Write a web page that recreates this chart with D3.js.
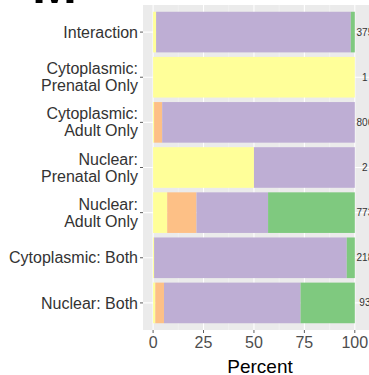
<!DOCTYPE html>
<html>
<head>
<meta charset="utf-8">
<script src="https://cdn.jsdelivr.net/npm/d3@7"></script>
<style>
  html, body { margin: 0; padding: 0; background: #fff; }
  svg { display: block; font-family: "Liberation Sans", Arial, Helvetica, sans-serif; }
</style>
</head>
<body>
<svg id="chart" width="369" height="375"></svg>
<script>
// Categories, top to bottom (multi-line labels split on "\n")
const categories = [
  "Interaction",
  "Cytoplasmic:\nPrenatal Only",
  "Cytoplasmic:\nAdult Only",
  "Nuclear:\nPrenatal Only",
  "Nuclear:\nAdult Only",
  "Cytoplasmic: Both",
  "Nuclear: Both"
];
// Number of features in each category (printed at the right of each bar)
const counts = ["375", "1", "806", "2", "773", "218", "93"];

// Percent of each category falling in each group, stacked left to right
const groupNames = ["g1", "g2", "g3", "g4"];
const groupColors = ["#ffff99", "#fdc086", "#beaed4", "#7fc97f"];
const pctG1 = [1.5, 100, 0.5, 50, 7.0, 0.5, 1.1];
const pctG2 = [0.0, 0, 4.0, 0, 14.5, 0.0, 4.3];
const pctG3 = [96.5, 0, 95.5, 50, 35.5, 95.5, 67.7];
const pctG4 = [2.0, 0, 0.0, 0, 43.0, 4.0, 26.9];

const xTicks = [0, 25, 50, 75, 100];
const xMinor = [12.5, 37.5, 62.5, 87.5];
const xTitle = "Percent";
const panelTag = "M";

const svg = d3.select("#chart");
const panel = { left: 143, right: 377, top: 5, bottom: 330 };

const x = d3.scaleLinear().domain([-5, 111]).range([panel.left, panel.right]);
const y = d3.scaleBand().domain(categories)
  .range([panel.top, panel.bottom])
  .paddingInner(0.1).paddingOuter(0.15);

// Panel background
svg.append("rect")
  .attr("x", panel.left).attr("y", panel.top)
  .attr("width", panel.right - panel.left).attr("height", panel.bottom - panel.top)
  .attr("fill", "#ebebeb");

// Grid lines
const grid = svg.append("g");
grid.selectAll("line.minor").data(xMinor).join("line")
  .attr("x1", d => x(d)).attr("x2", d => x(d))
  .attr("y1", panel.top).attr("y2", panel.bottom)
  .attr("stroke", "#f5f5f5").attr("stroke-width", 0.6);
grid.selectAll("line.major").data(xTicks).join("line")
  .attr("x1", d => x(d)).attr("x2", d => x(d))
  .attr("y1", panel.top).attr("y2", panel.bottom)
  .attr("stroke", "#ffffff").attr("stroke-width", 1.1);
grid.selectAll("line.h").data(categories).join("line")
  .attr("x1", panel.left).attr("x2", panel.right)
  .attr("y1", d => y(d) + y.bandwidth() / 2).attr("y2", d => y(d) + y.bandwidth() / 2)
  .attr("stroke", "#ffffff").attr("stroke-width", 1.1);

// Stacked bars
const rows = categories.map((c, i) => ({
  cat: c, g1: pctG1[i], g2: pctG2[i], g3: pctG3[i], g4: pctG4[i]
}));
const stack = d3.stack().keys(groupNames)(rows);
const color = d3.scaleOrdinal().domain(groupNames).range(groupColors);

svg.append("g").selectAll("g").data(stack).join("g")
  .attr("fill", d => color(d.key))
  .selectAll("rect").data(d => d).join("rect")
  .attr("x", d => x(d[0]))
  .attr("width", d => Math.max(0, x(d[1]) - x(d[0])))
  .attr("y", d => y(d.data.cat))
  .attr("height", y.bandwidth());

// Count labels at the right of each bar
svg.append("g").selectAll("text").data(categories).join("text")
  .attr("x", x(105))
  .attr("y", d => y(d) + y.bandwidth() / 2)
  .attr("dy", "0.35em")
  .attr("text-anchor", "middle")
  .attr("font-size", 10)
  .attr("fill", "#333333")
  .text((d, i) => counts[i]);

// Y axis: tick marks and labels
const yAxis = svg.append("g");
yAxis.selectAll("line").data(categories).join("line")
  .attr("x1", panel.left - 3).attr("x2", panel.left)
  .attr("y1", d => y(d) + y.bandwidth() / 2).attr("y2", d => y(d) + y.bandwidth() / 2)
  .attr("stroke", "#333333").attr("stroke-width", 0.8);
yAxis.selectAll("text").data(categories).join("text")
  .attr("text-anchor", "end")
  .attr("font-size", 16)
  .attr("fill", "#333333")
  .each(function (d) {
    const lines = d.split("\n");
    const cy = y(d) + y.bandwidth() / 2;
    const lh = 17;
    const t = d3.select(this);
    lines.forEach((ln, k) => {
      t.append("tspan")
        .attr("x", panel.left - 5)
        .attr("y", cy + (k - (lines.length - 1) / 2) * lh)
        .attr("dy", "0.35em")
        .text(ln);
    });
  });

// X axis: tick marks and labels
const xAxis = svg.append("g");
xAxis.selectAll("line").data(xTicks).join("line")
  .attr("x1", d => x(d)).attr("x2", d => x(d))
  .attr("y1", panel.bottom).attr("y2", panel.bottom + 3)
  .attr("stroke", "#333333").attr("stroke-width", 0.8);
xAxis.selectAll("text").data(xTicks).join("text")
  .attr("x", d => x(d))
  .attr("y", panel.bottom + 12)
  .attr("dy", "0.35em")
  .attr("text-anchor", "middle")
  .attr("font-size", 16)
  .attr("fill", "#4d4d4d")
  .text(d => d);

// Axis title
svg.append("text")
  .attr("x", (panel.left + panel.right) / 2)
  .attr("y", 366)
  .attr("dy", "0.35em")
  .attr("text-anchor", "middle")
  .attr("font-size", 19)
  .attr("fill", "#000000")
  .text(xTitle);

// Panel tag, mostly above the top edge
svg.append("text")
  .attr("x", 32)
  .attr("y", 3)
  .attr("font-size", 54)
  .attr("font-weight", "bold")
  .attr("fill", "#000000")
  .text(panelTag);
</script>
</body>
</html>
